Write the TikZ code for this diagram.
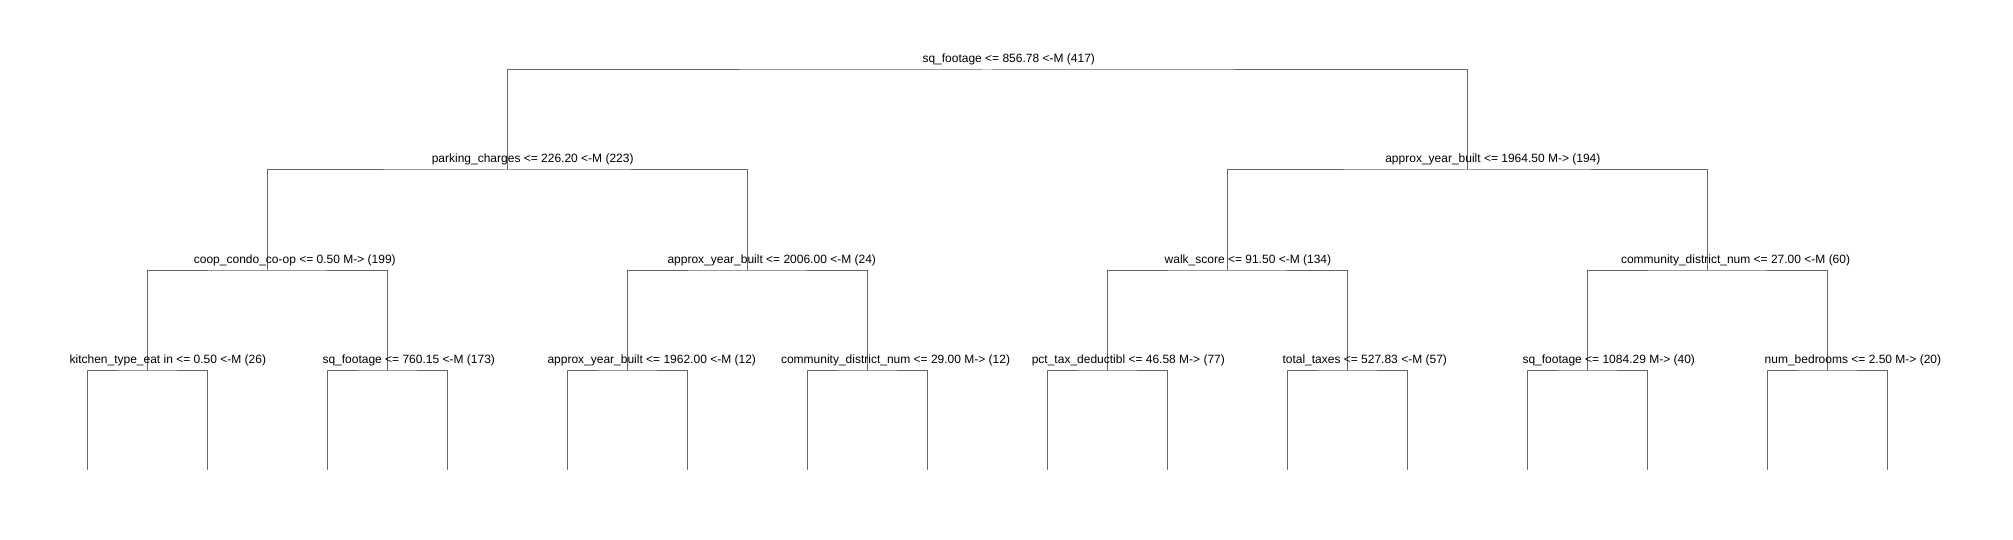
\documentclass[tikz,border=0pt]{standalone}
\usepackage{fontspec}
\setmainfont{Liberation Sans}
\tikzset{
  branch/.style={draw=black!60, line width=1pt},
  split/.style={font=\fontsize{12}{14}\selectfont, inner sep=0pt, anchor=base west},
}
\begin{document}
\begin{tikzpicture}[x=1pt,y=-1pt]
  \useasboundingbox (0,0) rectangle (2013,540);

  % split points, one row per depth
  \coordinate (r) at (987,70);
  \coordinate (a) at (507,170);
  \coordinate (b) at (1467,170);
  \coordinate (aa) at (267,270);
  \coordinate (ab) at (747,270);
  \coordinate (ba) at (1227,270);
  \coordinate (bb) at (1707,270);
  \coordinate (aaa) at (147,370);
  \coordinate (aab) at (387,370);
  \coordinate (aba) at (627,370);
  \coordinate (abb) at (867,370);
  \coordinate (baa) at (1107,370);
  \coordinate (bab) at (1347,370);
  \coordinate (bba) at (1587,370);
  \coordinate (bbb) at (1827,370);
  % leaf ends
  \foreach \i in {1,...,16}
    \coordinate (l\i) at ({87+120*(\i-1)},470);

  % draw branches
  \draw[branch] (a) |- (r) -| (b);
  \draw[branch] (aa) |- (a) -| (ab);
  \draw[branch] (ba) |- (b) -| (bb);
  \draw[branch] (aaa) |- (aa) -| (aab);
  \draw[branch] (aba) |- (ab) -| (abb);
  \draw[branch] (baa) |- (ba) -| (bab);
  \draw[branch] (bba) |- (bb) -| (bbb);
  \draw[branch] (l1) |- (aaa) -| (l2);
  \draw[branch] (l3) |- (aab) -| (l4);
  \draw[branch] (l5) |- (aba) -| (l6);
  \draw[branch] (l7) |- (abb) -| (l8);
  \draw[branch] (l9) |- (baa) -| (l10);
  \draw[branch] (l11) |- (bab) -| (l12);
  \draw[branch] (l13) |- (bba) -| (l14);
  \draw[branch] (l15) |- (bbb) -| (l16);

  % split labels
  \node[split] (tr) at ([xshift=-64.7pt,yshift=7pt]r) {sq\_footage <= 856.78 <-M (417)};
  \node[split] (ta) at ([xshift=-75.4pt,yshift=7pt]a) {parking\_charges <= 226.20 <-M (223)};
  \node[split] (tb) at ([xshift=-81.9pt,yshift=7pt]b) {approx\_year\_built <= 1964.50 M-> (194)};
  \node[split] (taa) at ([xshift=-73.3pt,yshift=7pt]aa) {coop\_condo\_co-op <= 0.50 M-> (199)};
  \node[split] (tab) at ([xshift=-79.7pt,yshift=7pt]ab) {approx\_year\_built <= 2006.00 <-M (24)};
  \node[split] (tba) at ([xshift=-62.5pt,yshift=7pt]ba) {walk\_score <= 91.50 <-M (134)};
  \node[split] (tbb) at ([xshift=-86.2pt,yshift=7pt]bb) {community\_district\_num <= 27.00 <-M (60)};
  \node[split] (taaa) at ([xshift=-77.6pt,yshift=7pt]aaa) {kitchen\_type\_eat in <= 0.50 <-M (26)};
  \node[split] (taab) at ([xshift=-64.7pt,yshift=7pt]aab) {sq\_footage <= 760.15 <-M (173)};
  \node[split] (taba) at ([xshift=-79.7pt,yshift=7pt]aba) {approx\_year\_built <= 1962.00 <-M (12)};
  \node[split] (tabb) at ([xshift=-86.2pt,yshift=7pt]abb) {community\_district\_num <= 29.00 M-> (12)};
  \node[split] (tbaa) at ([xshift=-75.4pt,yshift=7pt]baa) {pct\_tax\_deductibl <= 46.58 M-> (77)};
  \node[split] (tbab) at ([xshift=-64.7pt,yshift=7pt]bab) {total\_taxes <= 527.83 <-M (57)};
  \node[split] (tbba) at ([xshift=-64.7pt,yshift=7pt]bba) {sq\_footage <= 1084.29 M-> (40)};
  \node[split] (tbbb) at ([xshift=-62.5pt,yshift=7pt]bbb) {num\_bedrooms <= 2.50 M-> (20)};
\end{tikzpicture}
\end{document}
